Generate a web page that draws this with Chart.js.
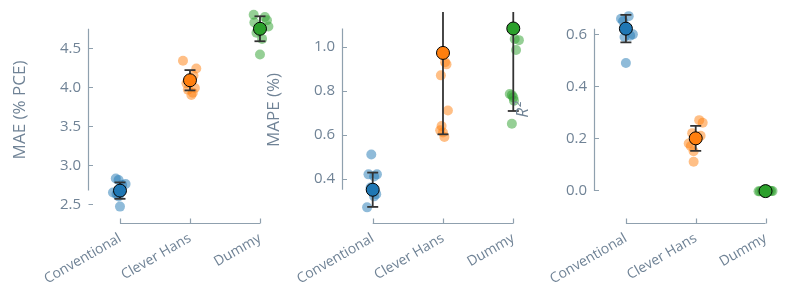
<!DOCTYPE html>
<html><head><meta charset="utf-8">
<script src="https://cdn.jsdelivr.net/npm/chart.js@4.4.1/dist/chart.umd.min.js"></script>
<style>
html,body{margin:0;padding:0;background:#fff;}
#wrap{position:relative;width:793px;height:297px;overflow:hidden;}
canvas{position:absolute;left:0;top:0;}
</style></head>
<body><div id="wrap">
<canvas id="c1" width="793" height="297"></canvas>
<canvas id="c2" width="793" height="297"></canvas>
<canvas id="c3" width="793" height="297"></canvas>
</div>
<script>
// ---------- data ----------
const categories = ['Conventional', 'Clever Hans', 'Dummy'];

const maeTicks = [2.5, 3.0, 3.5, 4.0, 4.5];
const maeMean = [2.675, 4.09, 4.75];
const maeErr = [0.105, 0.13, 0.16];
const maeConventional = [2.83, 2.81, 2.76, 2.75, 2.65, 2.63, 2.60, 2.47];
const maeCleverHans = [4.34, 4.24, 4.15, 4.05, 3.99, 3.97, 3.93, 3.90];
const maeDummy = [4.93, 4.90, 4.86, 4.83, 4.78, 4.70, 4.62, 4.42];

const mapeTicks = [0.4, 0.6, 0.8, 1.0];
const mapeMean = [0.35, 0.972, 1.083];
const mapeErr = [0.078, 0.37, 0.375];
const mapeConventional = [0.51, 0.42, 0.42, 0.41, 0.36, 0.33, 0.32, 0.27];
const mapeCleverHans = [0.93, 0.92, 0.87, 0.71, 0.64, 0.62, 0.61, 0.59];
const mapeDummy = [1.035, 1.03, 0.985, 0.785, 0.78, 0.77, 0.755, 0.65];

const r2Ticks = [0.0, 0.2, 0.4, 0.6];
const r2Mean = [0.622, 0.20, -0.003];
const r2Err = [0.053, 0.048, 0.002];
const r2Conventional = [0.67, 0.66, 0.65, 0.62, 0.60, 0.595, 0.59, 0.49];
const r2CleverHans = [0.27, 0.26, 0.22, 0.21, 0.18, 0.17, 0.15, 0.11];
const r2Dummy = [-0.004, -0.003, -0.002, -0.003, -0.005, -0.001, -0.003, -0.004];

// horizontal strip jitter (category units)
const maeJitter = [
  [-0.06, -0.02, 0.08, 0.03, -0.10, -0.05, -0.02, 0.00],
  [-0.10, 0.09, 0.05, -0.05, 0.07, -0.03, 0.04, 0.02],
  [-0.09, 0.07, 0.10, -0.08, 0.12, -0.05, 0.03, 0.00]
];
const mapeJitter = [
  [-0.02, -0.06, 0.06, 0.02, -0.03, 0.05, 0.02, -0.08],
  [0.03, 0.05, -0.03, 0.07, -0.02, -0.04, 0.00, 0.02],
  [0.02, 0.08, 0.04, -0.05, -0.02, 0.00, 0.01, -0.02]
];
const r2Jitter = [
  [0.04, -0.07, -0.04, 0.02, 0.10, 0.06, -0.02, 0.00],
  [0.05, 0.10, -0.05, 0.07, -0.10, -0.07, -0.03, -0.03],
  [-0.08, -0.05, 0.06, 0.08, -0.02, 0.03, 0.10, -0.10]
];

// ---------- styles ----------
const colors = ['#1f77b4', '#ff7f0e', '#2ca02c'];
const fadedColors = ['rgba(31,119,180,0.5)', 'rgba(255,127,14,0.5)', 'rgba(44,160,44,0.5)'];
const textColor = '#708396';
const axisColor = '#8fa0ae';
const FONT = "'Open Sans', sans-serif";

const spinePlugin = {
  id: 'spines',
  beforeDatasetsDraw(chart) {
    const {ctx, chartArea, scales: {x, y}} = chart;
    const opts = chart.options.plugins.spines;
    const lo = Math.min(...opts.means), hi = Math.max(...opts.means);
    const left = Math.round(chartArea.left) + 0.5;
    ctx.save();
    ctx.strokeStyle = axisColor;
    ctx.lineWidth = 1.2;
    ctx.beginPath();
    ctx.moveTo(left, y.getPixelForValue(lo));
    ctx.lineTo(left, y.getPixelForValue(hi));
    y.ticks.forEach(t => {
      const py = Math.round(y.getPixelForValue(t.value)) + 0.5;
      ctx.moveTo(left, py);
      ctx.lineTo(left + 4.5, py);
    });
    const by = Math.round(chartArea.bottom + opts.offset) + 0.5;
    ctx.moveTo(x.getPixelForValue(0), by);
    ctx.lineTo(x.getPixelForValue(categories.length - 1), by);
    categories.forEach((c, i) => {
      const px = Math.round(x.getPixelForValue(i)) + 0.5;
      ctx.moveTo(px, by);
      ctx.lineTo(px, by - 5);
    });
    ctx.stroke();
    ctx.restore();
  }
};

function makePanel(id, p) {
  const datasets = [];
  p.series.forEach((vals, i) => {
    datasets.push({
      data: [{x: i, y: p.means[i]}],
      backgroundColor: colors[i], borderColor: '#000', borderWidth: 1,
      pointRadius: 6.5, clip: false, order: 1
    });
    datasets.push({
      type: 'line',
      data: [{x: i, y: p.means[i] - p.errs[i]}, {x: i, y: p.means[i] + p.errs[i]}],
      borderColor: '#333333', borderWidth: 1.8, fill: false,
      pointStyle: 'line', pointRadius: 5.5, pointBorderWidth: 1.8,
      pointBorderColor: '#333333', pointBackgroundColor: '#333333', order: 2
    });
    datasets.push({
      data: vals.map((v, k) => ({x: i + p.jitter[i][k], y: v})),
      backgroundColor: fadedColors[i], borderWidth: 0,
      pointRadius: 5, clip: false, order: 3
    });
  });
  return new Chart(document.getElementById(id), {
    type: 'scatter',
    data: {datasets},
    plugins: [spinePlugin],
    options: {
      responsive: false, animation: false, events: [],
      layout: {padding: {left: p.padLeft, right: p.padRight, top: 12, bottom: 0}},
      plugins: {legend: {display: false}, tooltip: {enabled: false},
                spines: {means: p.means, offset: 15}},
      scales: {
        x: {
          type: 'linear', min: p.xMin, max: p.xMax,
          grid: {display: false, drawTicks: false}, border: {display: false},
          afterBuildTicks: s => { s.ticks = categories.map((c, i) => ({value: i})); },
          ticks: {callback: v => categories[Math.round(v)], color: textColor,
                  font: {family: FONT, size: 14}, minRotation: 30, maxRotation: 30,
                  autoSkip: false, padding: 22},
          afterFit: s => { s.height = 89; s.paddingLeft = 0; s.paddingRight = 0; }
        },
        y: {
          type: 'linear', min: p.yMin, max: p.yMax,
          grid: {display: false, drawTicks: false}, border: {display: false},
          afterBuildTicks: s => { s.ticks = p.ticks.map(v => ({value: v})); },
          ticks: {callback: v => v.toFixed(1), color: textColor,
                  font: {family: FONT, size: 15}, padding: 7},
          title: {display: true, text: p.title, color: textColor, padding: 0,
                  font: {family: FONT, size: 17, style: p.titleStyle || 'normal'}},
          afterFit: s => { s.width = p.yWidth; s.paddingTop = 0; s.paddingBottom = 0; }
        }
      }
    }
  });
}

makePanel('c1', {
  title: 'MAE (% PCE)', ticks: maeTicks, means: maeMean, errs: maeErr,
  series: [maeConventional, maeCleverHans, maeDummy], jitter: maeJitter,
  padLeft: 10, yWidth: 78, padRight: 513, xMin: -0.457, xMax: 2.286,
  yMin: 2.452, yMax: 4.965
});
makePanel('c2', {
  title: 'MAPE (%)', ticks: mapeTicks, means: mapeMean, errs: mapeErr,
  series: [mapeConventional, mapeCleverHans, mapeDummy], jitter: mapeJitter,
  padLeft: 264, yWidth: 78, padRight: 263, xMin: -0.437, xMax: 2.238,
  yMin: 0.267, yMax: 1.158
});
makePanel('c3', {
  title: 'R²', titleStyle: 'italic', ticks: r2Ticks, means: r2Mean, errs: r2Err,
  series: [r2Conventional, r2CleverHans, r2Dummy], jitter: r2Jitter,
  padLeft: 513, yWidth: 81, padRight: 7, xMin: -0.457, xMax: 2.286,
  yMin: -0.068, yMax: 0.686
});
</script>
</body></html>
